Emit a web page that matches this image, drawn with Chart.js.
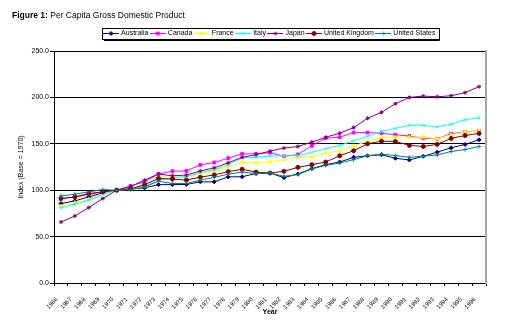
<!DOCTYPE html>
<html>
<head>
<meta charset="utf-8">
<script src="https://cdn.jsdelivr.net/npm/chart.js@4.4.1/dist/chart.umd.min.js"></script>
<style>
  html, body { margin: 0; padding: 0; background: #fff; }
  #wrap { position: relative; width: 512px; height: 333px; }
  #fig-title { position: absolute; left: 12px; top: 10px; font: 8.5px 'Liberation Sans', Arial, sans-serif; color: #000; white-space: nowrap; }
</style>
</head>
<body>
<div id="wrap">
  <div id="fig-title"><b>Figure 1:</b> Per Capita Gross Domestic Product</div>
  <canvas id="chart" width="512" height="333"></canvas>
</div>
<script>
/* Data (index, 1970 = 100) */
const years = ['1966', '1967', '1968', '1969', '1970', '1971', '1972', '1973', '1974', '1975',
  '1976', '1977', '1978', '1979', '1980', '1981', '1982', '1983', '1984', '1985',
  '1986', '1987', '1988', '1989', '1990', '1991', '1992', '1993', '1994', '1995', '1996'];

const australia = [85.6, 88.5, 92.8, 97.1, 100, 101.5, 102.5, 106, 106, 106.2,
  109, 109, 114.3, 114.5, 118, 118.5, 113.5, 117.5, 123.2, 127.5,
  130.4, 135.4, 137.1, 138.2, 134.4, 132.6, 136.6, 141, 145.7, 149.3, 154.3];
const canada = [91, 92.5, 95.5, 98, 100, 104.7, 109, 117.5, 120.5, 120.7,
  127.3, 129.8, 134.5, 139.2, 139.2, 140.5, 136.5, 138.5, 147.9, 156.1,
  157.1, 162.1, 162.1, 161.4, 159.8, 158.3, 156, 155.4, 160.9, 162.7, 163.8];
const france = [83, 86.6, 90.3, 96, 100, 101.5, 105.5, 113.5, 116, 114.5,
  117.5, 120.7, 125.2, 130.2, 129.6, 130.4, 132.9, 135.4, 135.7, 140,
  142.5, 147.9, 152.5, 156.8, 157.2, 157, 157.2, 155.4, 159.8, 162.7, 163.8];
const italy = [81, 84.9, 89.2, 95.5, 100, 101, 104.3, 110.8, 113.5, 114.5,
  119.2, 122.1, 127.4, 134.8, 135.4, 136.8, 137.1, 137.1, 140.7, 144.6,
  148.2, 153.2, 157.9, 163.2, 166.5, 169.9, 169.9, 168.1, 171, 176.1, 177.9];
const japan = [65.7, 72.2, 81.3, 91, 100, 104, 110.8, 117.5, 115.5, 116.3,
  120.7, 124.1, 129.5, 135.4, 138.3, 142.1, 145.4, 147.1, 151.8, 157.1,
  161.4, 167.5, 177.5, 183.9, 193.2, 200, 201.4, 200.7, 201.8, 205.1, 211.6];
const uk = [91, 92.8, 96.4, 98.2, 100, 101.5, 106, 112.6, 112, 110.9,
  114, 116.5, 120, 122.5, 119.5, 118.5, 120.4, 124.6, 127.5, 130.4,
  137.1, 142.5, 150, 152.8, 152.5, 148.3, 147.1, 149.4, 155.8, 158.9, 161.2];
const us = [93.8, 95.7, 98.2, 100.7, 100, 100.5, 103.6, 109.7, 107.2, 107.2,
  110.9, 113.8, 117.3, 119.5, 118, 118.5, 115, 116.8, 122.9, 126.8,
  129.3, 132.9, 137.1, 138.9, 137.3, 135.5, 136.6, 138, 141.7, 143.8, 147.1];

const seriesNames = ['Australia', 'Canada', 'France', 'Italy', 'Japan', 'United Kingdom', 'United States'];
const seriesData = [australia, canada, france, italy, japan, uk, us];
const seriesColors = ['#000080', '#FF00FF', '#FFFF00', '#00FFFF', '#800080', '#800000', '#008080'];
const seriesMarkers = ['rectRot', 'rect', 'triangle', 'crossRot', 'star', 'circle', 'cross'];

Chart.defaults.font.family = "'Liberation Sans', Arial, sans-serif";
Chart.defaults.color = '#000';

/* legend sample: short line with the marker in the middle */
function legendSample(color, marker) {
  const c = document.createElement('canvas');
  c.width = 16;
  c.height = 7;
  const g = c.getContext('2d');
  g.strokeStyle = color;
  g.fillStyle = color;
  g.lineWidth = 1;
  g.beginPath();
  g.moveTo(0, 3.5);
  g.lineTo(16, 3.5);
  g.stroke();
  Chart.helpers.drawPoint(g, { pointStyle: marker, radius: 2, rotation: 0, borderWidth: 1 }, 8, 3.5);
  return c;
}

/* border round the legend */
const legendBorder = {
  id: 'legendBorder',
  afterDraw(chart) {
    const boxes = chart.legend && chart.legend.legendHitBoxes;
    if (!boxes || !boxes.length) return;
    const left = Math.min(...boxes.map(b => b.left)) - 3;
    const right = Math.max(...boxes.map(b => b.left + b.width)) + 3;
    const top = Math.min(...boxes.map(b => b.top)) - 2;
    const bottom = Math.max(...boxes.map(b => b.top + b.height)) + 2;
    const ctx = chart.ctx;
    ctx.save();
    ctx.strokeStyle = '#000';
    ctx.lineWidth = 1;
    ctx.strokeRect(Math.round(left) + 0.5, Math.round(top) + 0.5, Math.round(right - left), Math.round(bottom - top));
    ctx.beginPath();
    ctx.moveTo(Math.round(left) + 2, Math.round(bottom) + 1.5);
    ctx.lineTo(Math.round(right) + 1.5, Math.round(bottom) + 1.5);
    ctx.lineTo(Math.round(right) + 1.5, Math.round(top) + 2);
    ctx.stroke();
    ctx.restore();
  }
};

new Chart(document.getElementById('chart').getContext('2d'), {
  type: 'line',
  data: {
    labels: years,
    datasets: seriesNames.map((name, i) => ({
      label: name,
      data: seriesData[i],
      borderColor: seriesColors[i],
      backgroundColor: seriesColors[i],
      borderWidth: 1,
      pointStyle: seriesMarkers[i],
      pointRadius: 2,
      pointBorderWidth: 1,
      pointBorderColor: seriesColors[i],
      pointBackgroundColor: seriesColors[i],
      tension: 0,
      fill: false,
      order: seriesNames.length - i
    }))
  },
  options: {
    responsive: false,
    animation: false,
    layout: { padding: { left: 17, right: 26, top: 27, bottom: 14 } },
    plugins: {
      legend: {
        position: 'top',
        fullSize: false,
        labels: {
          usePointStyle: true,
          pointStyleWidth: 13,
          padding: 3,
          font: { size: 7 },
          color: '#000',
          generateLabels: chart => chart.data.datasets.map((ds, i) => ({
            text: ds.label,
            pointStyle: legendSample(seriesColors[i], seriesMarkers[i]),
            fillStyle: seriesColors[i],
            strokeStyle: seriesColors[i],
            lineWidth: 0,
            hidden: false,
            datasetIndex: i
          }))
        }
      },
      subtitle: {
        display: true,
        text: '',
        position: 'top',
        weight: 500,
        padding: 0,
        font: { size: 4, lineHeight: 1 }
      },
      tooltip: { enabled: false }
    },
    scales: {
      x: {
        type: 'category',
        offset: true,
        grid: { drawOnChartArea: false, color: '#000', tickLength: 3, offset: true },
        border: { color: '#000', width: 1 },
        ticks: { autoSkip: false, minRotation: 45, maxRotation: 45, padding: 10, labelOffset: -4, font: { size: 6 }, color: '#000' },
        title: { display: true, text: 'Year', font: { size: 7, weight: 'bold' }, color: '#000', padding: { top: 2, bottom: 3 } },
        afterFit: scale => { scale.height = 36; }
      },
      y: {
        min: 0,
        max: 250,
        ticks: { stepSize: 50, padding: 1, font: { size: 7 }, color: '#000', callback: v => v.toFixed(1) },
        grid: { color: '#000', lineWidth: 1, tickLength: 4 },
        border: { color: '#000', width: 1 },
        title: { display: true, text: 'Index (Base = 1970)', font: { size: 7 }, color: '#000', padding: { top: 0, bottom: 4 } },
        afterFit: scale => { scale.width = 37; }
      },
      y2: {
        position: 'right',
        min: 0,
        max: 250,
        grid: { display: false },
        ticks: { display: false },
        border: { color: '#a6a6a6', width: 2 },
        afterFit: scale => { scale.width = 0; }
      }
    }
  },
  plugins: [legendBorder]
});
</script>
</body>
</html>
